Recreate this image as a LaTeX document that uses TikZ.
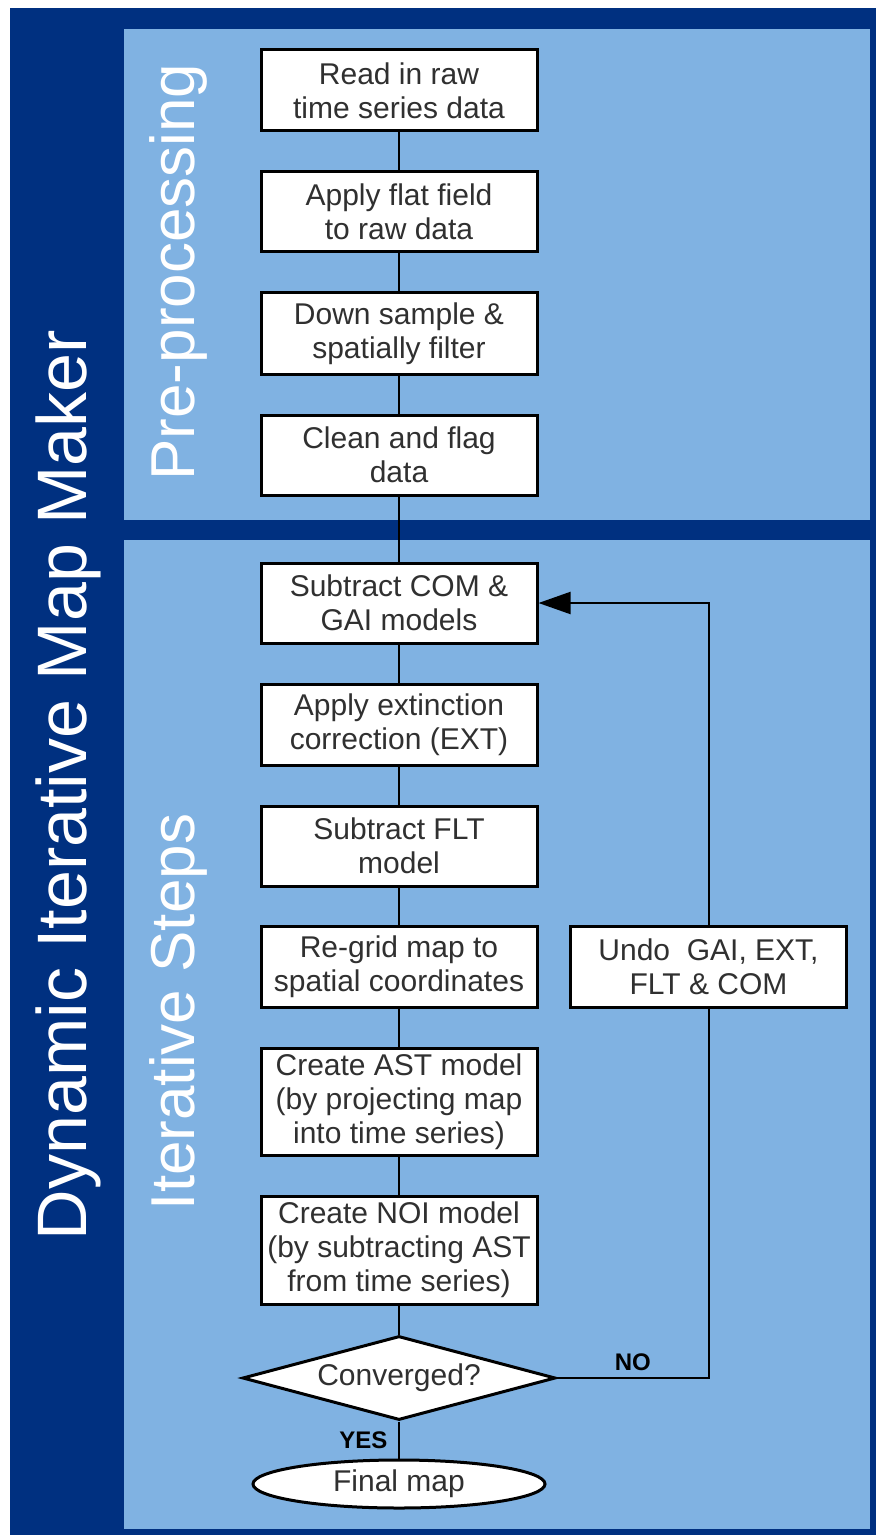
\documentclass[tikz,border=0pt]{standalone}
\usepackage{fontspec}
\setmainfont{Liberation Sans}
\usetikzlibrary{arrows.meta,shapes.geometric}
\definecolor{bandblue}{HTML}{003080}
\definecolor{panelblue}{HTML}{80B2E2}
\definecolor{boxtext}{HTML}{303030}

\begin{document}
\begin{tikzpicture}[x=0.5pt,y=-0.5pt,line width=1pt,font=\fontsize{15}{17}\selectfont,
  box/.style={draw,line width=1.5pt,fill=white,text=boxtext,align=center,minimum width=138pt,inner sep=0pt},
  title/.style={rotate=90,text=white},
  tag/.style={font=\fontsize{12}{14}\selectfont\bfseries},
  >={Triangle[length=16pt,width=11pt]}]
\useasboundingbox (0,0) rectangle (878,1535);
\fill[bandblue] (10,8) rectangle (876,1535);
\fill[panelblue] (124,29) rectangle (870,520);
\fill[panelblue] (124,540) rectangle (870,1529);

\node[title,font=\fontsize{35}{40}\selectfont] (maker) at (68,785) {Dynamic Iterative Map Maker};
\node[title,font=\fontsize{31}{36}\selectfont] (pre) at (178,272) {Pre-processing};
\node[title,font=\fontsize{31}{36}\selectfont] (iter) at (178,1012) {Iterative Steps};

\node[box,minimum height=40.5pt] (read) at (399,90.5) {Read in raw\\time series data};
\node[box,minimum height=40pt] (flat) at (399,212) {Apply flat field\\to raw data};
\node[box,minimum height=40.5pt] (down) at (399,333.5) {Down sample \&\\spatially filter};
\node[box,minimum height=40pt] (clean) at (399,455) {Clean and flag\\data};
\node[box,minimum height=40pt] (com) at (399,603) {Subtract COM \&\\GAI models};
\node[box,minimum height=40.5pt] (ext) at (399,724.5) {Apply extinction\\correction (EXT)};
\node[box,minimum height=40pt] (flt) at (399,846) {Subtract FLT\\model};
\node[box,minimum height=40.5pt] (regrid) at (399,966.5) {Re-grid map to\\spatial coordinates};
\node[box,minimum height=53.5pt] (ast) at (399,1101.5) {Create AST model\\ (by projecting map\\ into time series)};
\node[box,minimum height=54pt] (noi) at (399,1250) {Create NOI model\\ (by subtracting AST\\ from time series)};
\node[box,diamond,aspect=3.7,minimum width=156.5pt,minimum height=42pt] (conv) at (399,1378) {Converged?};
\node[box,ellipse,minimum width=146pt,minimum height=24pt] (final) at (399,1484) {Final map};
\node[box,minimum height=40.5pt] (undo) at (708.5,966.5) {Undo\ \ GAI, EXT,\\FLT \& COM};

\draw (read) -- (flat);
\draw (flat) -- (down);
\draw (down) -- (clean);
\draw (clean) -- (com);
\draw (com) -- (ext);
\draw (ext) -- (flt);
\draw (flt) -- (regrid);
\draw (regrid) -- (ast);
\draw (ast) -- (noi);
\draw (noi) -- (conv);
\draw (conv) -- node[tag,left,xshift=-2pt]{YES} (final);
\draw (conv.east) -| node[tag,above,pos=0.25]{NO} (undo.south);
\draw[->] (undo.north) |- (com.east);
\end{tikzpicture}
\end{document}
